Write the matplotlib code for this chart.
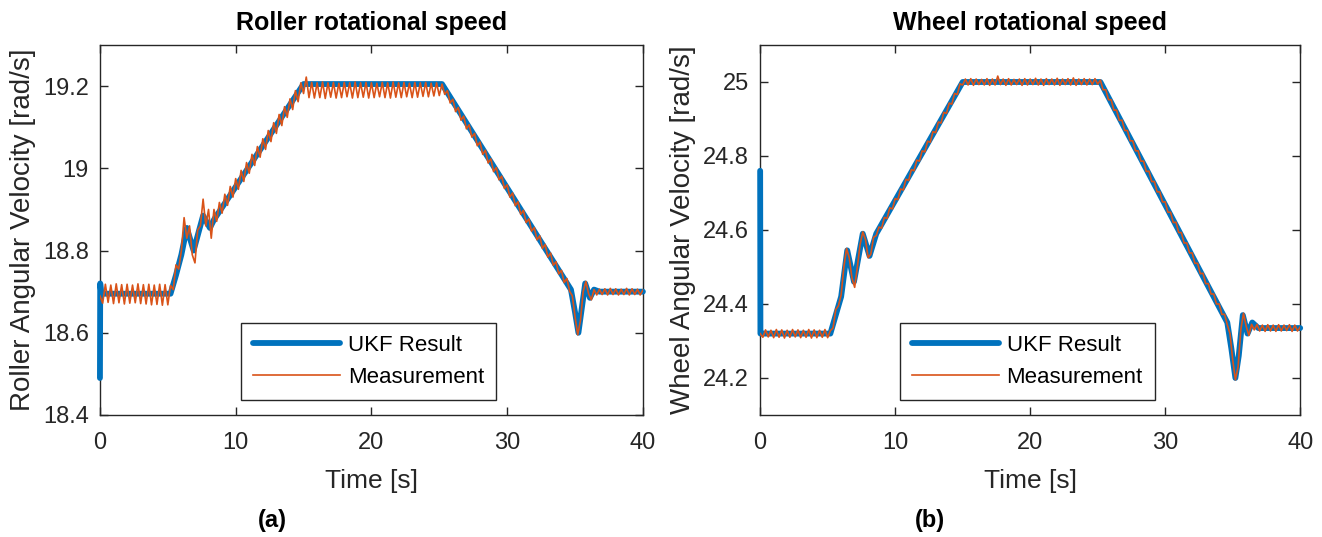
import numpy as np
import matplotlib.pyplot as plt
import matplotlib
from matplotlib.ticker import FormatStrFormatter

matplotlib.rcParams.update({'font.family': ['Liberation Sans', 'DejaVu Sans'],
                            'font.size': 14})

# measurement sample grid, 0.2 s
t_meas = np.arange(201) * 0.2

roller_meas = [
    18.690, 18.672, 18.718, 18.674, 18.716, 18.671, 18.719, 18.673, 18.717, 18.670,
    18.718, 18.672, 18.716, 18.673, 18.719, 18.671, 18.717, 18.670, 18.718, 18.668,
    18.716, 18.669, 18.718, 18.667, 18.717, 18.668, 18.715, 18.705, 18.765, 18.755,
    18.800, 18.880, 18.830, 18.860, 18.790, 18.770, 18.850, 18.860, 18.925, 18.860,
    18.900, 18.830, 18.900, 18.871, 18.917, 18.891, 18.937, 18.910, 18.956, 18.930,
    18.975, 18.949, 18.995, 18.968, 19.014, 18.988, 19.034, 19.007, 19.053, 19.027,
    19.072, 19.046, 19.092, 19.065, 19.111, 19.085, 19.131, 19.104, 19.150, 19.124,
    19.169, 19.143, 19.189, 19.162, 19.208, 19.182, 19.222, 19.172, 19.209, 19.171,
    19.208, 19.172, 19.210, 19.170, 19.208, 19.173, 19.209, 19.171, 19.207, 19.172,
    19.209, 19.174, 19.208, 19.171, 19.210, 19.172, 19.208, 19.173, 19.209, 19.171,
    19.208, 19.172, 19.207, 19.174, 19.209, 19.172, 19.208, 19.171, 19.210, 19.173,
    19.208, 19.172, 19.209, 19.174, 19.207, 19.172, 19.209, 19.173, 19.208, 19.175,
    19.209, 19.174, 19.207, 19.176, 19.208, 19.177, 19.205, 19.180, 19.189, 19.159,
    19.168, 19.138, 19.148, 19.117, 19.127, 19.096, 19.106, 19.076, 19.085, 19.055,
    19.064, 19.034, 19.044, 19.013, 19.023, 18.992, 19.002, 18.972, 18.981, 18.951,
    18.960, 18.930, 18.940, 18.909, 18.919, 18.888, 18.898, 18.868, 18.877, 18.847,
    18.856, 18.826, 18.836, 18.805, 18.815, 18.784, 18.794, 18.764, 18.773, 18.743,
    18.752, 18.722, 18.732, 18.701, 18.690, 18.640, 18.595, 18.630, 18.700, 18.725,
    18.695, 18.680, 18.705, 18.692, 18.706, 18.693, 18.707, 18.692, 18.708, 18.693,
    18.707, 18.692, 18.706, 18.693, 18.708, 18.692, 18.707, 18.693, 18.706, 18.692,
    18.704,
]

wheel_meas = [
    24.320, 24.310, 24.330, 24.311, 24.329, 24.309, 24.331, 24.310, 24.330, 24.308,
    24.329, 24.310, 24.331, 24.311, 24.330, 24.309, 24.329, 24.310, 24.331, 24.308,
    24.330, 24.309, 24.329, 24.310, 24.331, 24.309, 24.328, 24.335, 24.385, 24.395,
    24.425, 24.500, 24.550, 24.525, 24.470, 24.445, 24.500, 24.560, 24.595, 24.575,
    24.525, 24.535, 24.580, 24.585, 24.608, 24.605, 24.634, 24.631, 24.660, 24.657,
    24.685, 24.682, 24.711, 24.708, 24.737, 24.734, 24.763, 24.760, 24.789, 24.786,
    24.814, 24.811, 24.840, 24.837, 24.866, 24.863, 24.892, 24.889, 24.918, 24.915,
    24.943, 24.940, 24.969, 24.966, 24.995, 24.992, 25.008, 24.992, 25.009, 24.991,
    25.008, 24.993, 25.007, 24.992, 25.009, 24.991, 25.008, 24.992, 25.016, 24.993,
    25.008, 24.991, 25.009, 24.992, 25.007, 24.993, 25.008, 24.991, 25.009, 24.992,
    25.008, 24.993, 25.010, 24.992, 25.008, 24.991, 25.009, 24.993, 25.008, 24.992,
    25.010, 24.991, 25.008, 24.993, 25.009, 24.992, 25.011, 24.991, 25.008, 24.993,
    25.009, 24.992, 25.008, 24.993, 25.009, 24.994, 25.005, 24.979, 24.979, 24.952,
    24.952, 24.924, 24.924, 24.896, 24.897, 24.869, 24.869, 24.841, 24.841, 24.814,
    24.814, 24.786, 24.786, 24.758, 24.759, 24.731, 24.731, 24.703, 24.703, 24.676,
    24.676, 24.648, 24.648, 24.620, 24.621, 24.593, 24.593, 24.565, 24.565, 24.538,
    24.538, 24.510, 24.510, 24.482, 24.483, 24.455, 24.455, 24.427, 24.427, 24.400,
    24.400, 24.372, 24.372, 24.344, 24.320, 24.250, 24.195, 24.230, 24.330, 24.375,
    24.340, 24.315, 24.345, 24.330, 24.345, 24.327, 24.343, 24.326, 24.344, 24.327,
    24.343, 24.326, 24.344, 24.327, 24.343, 24.328, 24.344, 24.326, 24.343, 24.327,
    24.338,
]

# UKF estimate, key points
roller_ukf_t = [0, 0.02, 0.1, 5.2, 5.6, 6.0, 6.4, 6.9, 7.6, 8.1, 8.4, 15.0,
                25.2, 34.7, 35.0, 35.25, 35.5, 35.75, 36.1, 36.4, 36.8, 40]
roller_ukf = [18.49, 18.72, 18.695, 18.695, 18.74, 18.79, 18.855, 18.80, 18.885,
              18.855, 18.875, 19.205, 19.205, 18.705, 18.65, 18.60, 18.66, 18.72,
              18.685, 18.705, 18.70, 18.70]

wheel_ukf_t = [0, 0.02, 0.1, 5.2, 5.6, 6.0, 6.45, 6.95, 7.6, 8.1, 8.6, 15.0,
               25.2, 34.6, 34.9, 35.2, 35.45, 35.75, 36.1, 36.45, 36.9, 40]
wheel_ukf = [24.76, 24.32, 24.32, 24.32, 24.37, 24.42, 24.545, 24.46, 24.59,
             24.53, 24.59, 25.0, 25.0, 24.35, 24.28, 24.20, 24.26, 24.37, 24.32,
             24.35, 24.335, 24.335]

blue = '#0072BD'
orange = '#D95319'
grey = '#262626'

fig = plt.figure(figsize=(13.22, 5.37), dpi=100)
ax1 = fig.add_axes([0.0756, 0.2272, 0.4107, 0.689])
ax2 = fig.add_axes([0.575, 0.2272, 0.4085, 0.689])

panels = [
    (ax1, roller_ukf_t, roller_ukf, roller_meas, 'Roller rotational speed',
     'Roller Angular Velocity [rad/s]', (18.4, 19.3), [18.4, 18.6, 18.8, 19.0, 19.2]),
    (ax2, wheel_ukf_t, wheel_ukf, wheel_meas, 'Wheel rotational speed',
     'Wheel Angular Velocity [rad/s]', (24.1, 25.1), [24.2, 24.4, 24.6, 24.8, 25.0]),
]

for ax, ut, uv, mv, title, ylabel, ylim, yticks in panels:
    ax.plot(ut, uv, color=blue, lw=4.2, label='UKF Result',
            solid_capstyle='round', clip_on=False, zorder=3)
    ax.plot(t_meas, mv, color=orange, lw=1.2, label='Measurement', zorder=4)
    ax.set_xlim(0, 40)
    ax.set_ylim(*ylim)
    ax.set_xticks([0, 10, 20, 30, 40])
    ax.set_yticks(yticks)
    ax.yaxis.set_major_formatter(FormatStrFormatter('%g'))
    ax.tick_params(direction='in', top=True, right=True, length=6, width=1,
                   colors=grey, labelsize=17, pad=8)
    ax.tick_params(axis='x', pad=12)
    for s in ax.spines.values():
        s.set_color(grey)
        s.set_linewidth(1.0)
    ax.set_title(title, fontsize=18, fontweight='bold', pad=11)
    ax.set_xlabel('Time [s]', fontsize=19, color=grey, labelpad=11)
    ax.set_ylabel(ylabel, fontsize=20, color=grey, labelpad=5)
    leg = ax.legend(loc='center', bbox_to_anchor=(0.26, 0.04, 0.47, 0.21),
                    fontsize=16, handlelength=3.9, handletextpad=0.35,
                    fancybox=False, framealpha=1, edgecolor=grey,
                    borderpad=0.55, labelspacing=0.5)
    leg.get_frame().set_linewidth(1.0)
    leg.set_zorder(5)

fig.text(272 / 1322, 1 - 521 / 537, '(a)', fontsize=17, fontweight='bold',
         ha='center', va='center')
fig.text(930 / 1322, 1 - 521 / 537, '(b)', fontsize=17, fontweight='bold',
         ha='center', va='center')

fig.savefig('out.png', dpi=100)
